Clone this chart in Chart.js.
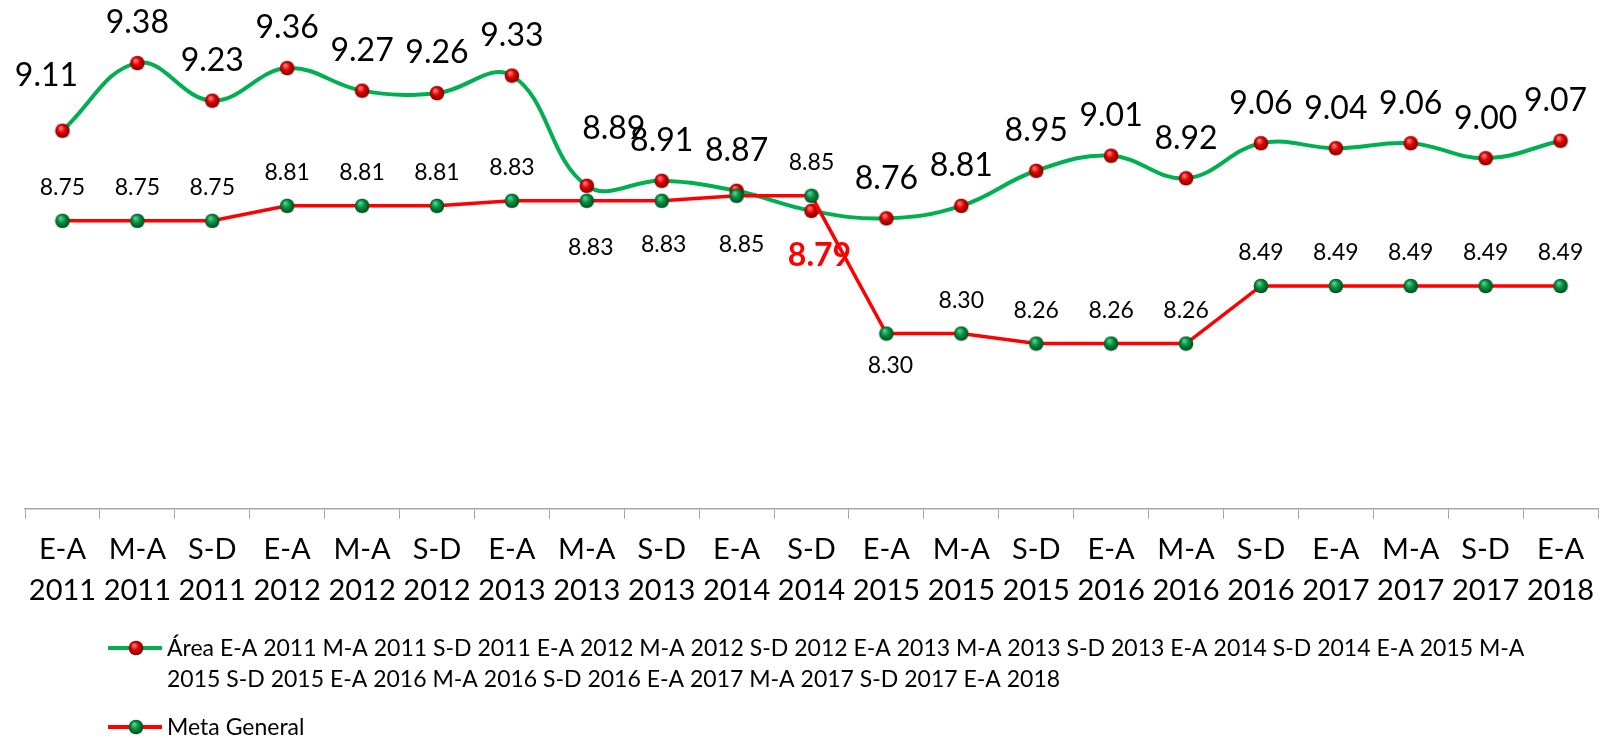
<!DOCTYPE html>
<html>
<head>
<meta charset="utf-8">
<script src="https://cdn.jsdelivr.net/npm/chart.js@4/dist/chart.umd.min.js"></script>
<style>
  html, body { margin: 0; padding: 0; background: #fff; overflow: hidden; }
  #wrap { width: 1604px; height: 738px; overflow: hidden; }
</style>
</head>
<body>
<div id="wrap"><canvas id="chart" width="1606" height="738"></canvas></div>
<script>
const periods = ['E-A', 'M-A', 'S-D', 'E-A', 'M-A', 'S-D', 'E-A', 'M-A', 'S-D', 'E-A', 'S-D',
  'E-A', 'M-A', 'S-D', 'E-A', 'M-A', 'S-D', 'E-A', 'M-A', 'S-D', 'E-A'];
const years = ['2011', '2011', '2011', '2012', '2012', '2012', '2013', '2013', '2013', '2014', '2014',
  '2015', '2015', '2015', '2016', '2016', '2016', '2017', '2017', '2017', '2018'];
const areaValues = [9.11, 9.38, 9.23, 9.36, 9.27, 9.26, 9.33, 8.89, 8.91, 8.87, 8.79,
  8.76, 8.81, 8.95, 9.01, 8.92, 9.06, 9.04, 9.06, 9.00, 9.07];
const metaValues = [8.75, 8.75, 8.75, 8.81, 8.81, 8.81, 8.83, 8.83, 8.83, 8.85, 8.85,
  8.30, 8.30, 8.26, 8.26, 8.26, 8.49, 8.49, 8.49, 8.49, 8.49];

const areaName = 'Área ' + periods.map((p, i) => p + ' ' + years[i]).join(' ');
const metaName = 'Meta General';

const GREEN = '#00B050';
const RED = '#FF0000';
const FONT = 'Lato, Carlito, Calibri, sans-serif';

// label placement (Excel labels were moved by hand in a few spots)
const areaLabelMove = { 0: [-16, -55], 7: [27, -57], 10: [8, 45], 20: [-5, -40] };
const metaLabelMove = { 7: [4, 47], 8: [2, 44], 9: [5, 49], 11: [4, 32] };

function ball(base, light, dark) {
  const c = document.createElement('canvas');
  c.width = c.height = 16;
  const g = c.getContext('2d');
  const grad = g.createRadialGradient(6, 5, 0.5, 8, 8, 8);
  grad.addColorStop(0, light);
  grad.addColorStop(0.45, base);
  grad.addColorStop(1, dark);
  g.fillStyle = grad;
  g.beginPath();
  g.arc(8, 8, 7.3, 0, Math.PI * 2);
  g.fill();
  return c;
}
const redBall = ball('#e00000', '#ff8080', '#700000');
const greenBall = ball('#009040', '#60d090', '#004018');

const valueLabels = {
  id: 'valueLabels',
  afterDatasetsDraw(chart) {
    const ctx = chart.ctx;
    ctx.save();
    ctx.textAlign = 'center';
    ctx.textBaseline = 'middle';
    chart.data.datasets.forEach((ds, di) => {
      const meta = chart.getDatasetMeta(di);
      meta.data.forEach((pt, i) => {
        const v = ds.data[i];
        let dx, dy, font, color = '#000';
        if (ds.label === metaName) {
          [dx, dy] = metaLabelMove[i] || [0, -33];
          font = '23px ' + FONT;
        } else {
          [dx, dy] = areaLabelMove[i] || [0, -40];
          font = '32px ' + FONT;
          if (i === 10) { font = 'bold 32px ' + FONT; color = RED; }
        }
        ctx.font = font;
        ctx.fillStyle = color;
        ctx.fillText(v.toFixed(2), pt.x + dx, pt.y + dy);
      });
    });
    ctx.restore();
  }
};

const bottomLegend = {
  id: 'bottomLegend',
  afterDraw(chart) {
    const ctx = chart.ctx;
    ctx.save();
    ctx.font = '23px ' + FONT;
    ctx.fillStyle = '#000';
    ctx.textBaseline = 'middle';
    // wrap the long series name
    const words = areaName.split(' ');
    const lines = [];
    let cur = '';
    words.forEach(w => {
      const t = cur ? cur + ' ' + w : w;
      if (ctx.measureText(t).width > 1390 && cur) { lines.push(cur); cur = w; } else cur = t;
    });
    lines.push(cur);

    const entries = [
      { lines, y: 648, line: GREEN, img: redBall },
      { lines: [metaName], y: 727, line: RED, img: greenBall }
    ];
    entries.forEach(e => {
      ctx.strokeStyle = e.line;
      ctx.lineWidth = 4;
      ctx.beginPath();
      ctx.moveTo(108, e.y);
      ctx.lineTo(162, e.y);
      ctx.stroke();
      ctx.drawImage(e.img, 128, e.y - 8);
      e.lines.forEach((l, k) => ctx.fillText(l, 167, e.y + 1 + k * 31));
    });
    ctx.restore();
  }
};

new Chart(document.getElementById('chart'), {
  type: 'line',
  data: {
    labels: periods.map((p, i) => [p, years[i]]),
    datasets: [
      {
        label: areaName,
        data: areaValues,
        borderColor: GREEN,
        borderWidth: 4,
        tension: 0.4,
        pointStyle: redBall,
        order: 2
      },
      {
        label: metaName,
        data: metaValues,
        borderColor: RED,
        borderWidth: 3.5,
        tension: 0,
        pointStyle: greenBall,
        order: 1
      }
    ]
  },
  options: {
    responsive: false,
    animation: false,
    layout: { padding: { left: 25, right: 0, top: 5, bottom: 116 } },
    plugins: {
      legend: { display: false },
      tooltip: { enabled: false }
    },
    scales: {
      x: {
        offset: true,
        grid: { offset: true, drawOnChartArea: false, tickLength: 10, color: '#A6A6A6' },
        border: { color: '#A6A6A6', width: 1.5 },
        ticks: {
          color: '#000',
          padding: 11,
          maxRotation: 0,
          autoSkip: false,
          font: { family: FONT, size: 29, lineHeight: 1.4 }
        }
      },
      y: {
        display: false,
        min: 7.6,
        max: 9.6
      }
    }
  },
  plugins: [valueLabels, bottomLegend]
});
</script>
</body>
</html>
